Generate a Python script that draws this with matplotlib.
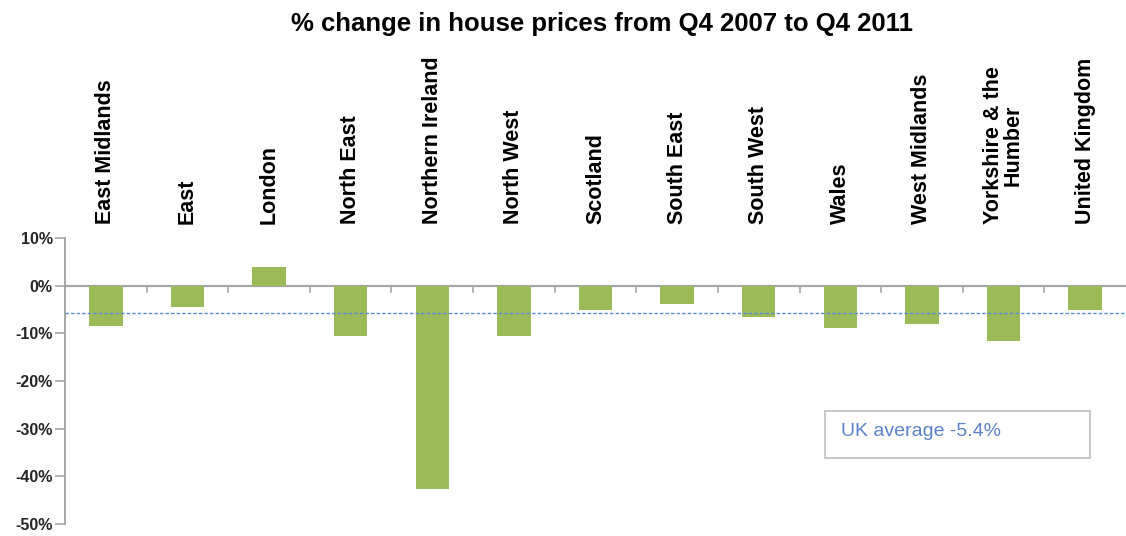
import numpy as np
import matplotlib
matplotlib.use("Agg")
import matplotlib.pyplot as plt
from matplotlib.patches import Rectangle
from matplotlib.ticker import FuncFormatter

# % change in house prices, Q4 2007 -> Q4 2011
regions = ["East Midlands", "East", "London", "North East", "Northern Ireland",
           "North West", "Scotland", "South East", "South West", "Wales",
           "West Midlands", "Yorkshire & the\nHumber", "United Kingdom"]
change = [-8.5, -4.5, 3.9, -10.6, -42.7, -10.6, -5.2, -3.8, -6.5, -8.8,
          -8.0, -11.6, -5.2]
avg_line = -5.7
avg_label = "UK average -5.4%"
yticks = [10, 0, -10, -20, -30, -40, -50]

plt.rcParams['font.family'] = ['Liberation Sans', 'DejaVu Sans']

fig = plt.figure(figsize=(11.26, 5.36), dpi=100)
ax = fig.add_axes([65/1126, 12/536, 1 - 65/1126, 286/536])

x = np.arange(len(regions))
ax.bar(x, change, width=0.41, color="#9bbb59", zorder=2)
ax.axhline(avg_line, color="#5b8ad6", lw=1.0, ls=(0, (2.5, 1.5)), zorder=3)
ax.axhline(0, color="#a6a6a6", lw=1.6, zorder=1)

ax.set_xlim(-0.5, len(regions) - 0.5)
ax.set_ylim(-50, 10)
ax.set_yticks(yticks)
ax.yaxis.set_major_formatter(FuncFormatter(lambda v, p: "%d%%" % v))
for lab in ax.get_yticklabels():
    lab.set_fontweight("bold")
    lab.set_fontsize(11.5)
    lab.set_color("#262626")
ax.tick_params(axis='y', length=7, width=1.2, color="#a6a6a6", pad=2)

# category boundary ticks hanging off the zero line
ax.set_xticks([])
for b in np.arange(0.5, len(regions) - 0.5, 1.0):
    ax.plot([b, b], [0, -1.4], color="#a6a6a6", lw=1.2, zorder=1)

for s in ["top", "right", "bottom"]:
    ax.spines[s].set_visible(False)
ax.spines["left"].set_color("#a6a6a6")
ax.spines["left"].set_linewidth(1.4)

trans = ax.get_xaxis_transform()
for i, r in enumerate(regions):
    ax.text(i, 1.049, r, rotation=90, ha="center", va="bottom", transform=trans,
            fontsize=15.5, fontweight="bold", multialignment="center",
            linespacing=0.92)

ax.add_patch(Rectangle((0.716, 0.231), 0.25, 0.165, transform=ax.transAxes,
                       fc="white", ec="#c8c8c8", lw=1.4, zorder=4))
ax.text(0.731, 0.324, avg_label, transform=ax.transAxes, fontsize=14,
        color="#5b82c8", va="center", ha="left", zorder=5)

fig.text(0.535, 0.956, "% change in house prices from Q4 2007 to Q4 2011",
         ha="center", va="center", fontsize=18.5, fontweight="bold")

fig.savefig("out.png", dpi=100)
